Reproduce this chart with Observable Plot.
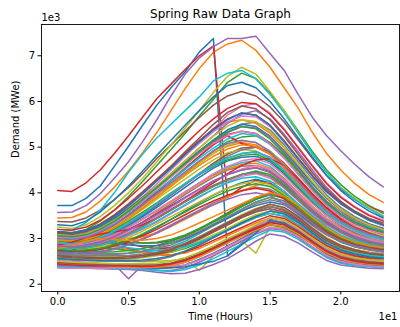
<!DOCTYPE html>
<html>
<head>
<meta charset="utf-8">
<script src="https://cdn.jsdelivr.net/npm/d3@7"></script>
<script src="https://cdn.jsdelivr.net/npm/@observablehq/plot@0.6"></script>
<style>
  body { margin: 0; background: #fff; }
  #chart svg { display: block; }
</style>
</head>
<body>
<div id="chart"></div>
<script>
// ---- data (demand in thousands of MWe, one list of 24 hourly values per spring day) ----
const hours = [0,1,2,3,4,5,6,7,8,9,10,11,12,13,14,15,16,17,18,19,20,21,22,23];
const xTicks = [0, 5, 10, 15, 20];
const yTicks = [2, 3, 4, 5, 6, 7];
const titleText = "Spring Raw Data Graph";
const xLabel = "Time (Hours)";
const yLabel = "Demand (MWe)";

const days = [
  [3.72,3.72,3.88,4.15,4.58,5.02,5.48,5.92,6.3,6.65,7.08,7.38,2.62,2.9,3.2,3.42,3.32,3.12,2.92,2.76,2.66,2.6,2.56,2.52],
  [3.45,3.46,3.58,3.82,4.12,4.48,4.88,5.32,5.8,6.28,6.72,7.08,7.26,7.34,7.12,6.75,6.3,5.85,5.32,4.86,4.5,4.2,3.96,3.79],
  [3.15,3.12,3.2,3.38,3.62,3.92,4.25,4.6,4.95,5.3,5.68,6.05,6.42,6.62,6.5,6.18,5.8,5.35,4.9,4.5,4.18,3.92,3.72,3.55],
  [4.05,4.03,4.22,4.5,4.86,5.25,5.66,6.06,6.38,6.7,7.0,7.22,3.9,4.12,4.28,4.2,3.98,3.72,3.48,3.3,3.18,3.1,3.04,3.0],
  [3.57,3.58,3.72,3.98,4.32,4.68,5.12,5.6,6.12,6.6,6.95,7.2,7.38,7.38,7.43,7.05,6.68,6.15,5.65,5.25,4.92,4.62,4.35,4.13],
  [3.37,3.36,3.45,3.62,3.85,4.12,4.42,4.75,5.05,5.35,5.65,5.92,6.12,6.22,6.12,5.88,5.55,5.15,4.75,4.38,4.08,3.85,3.7,3.58],
  [3.05,3.02,3.08,3.22,3.42,3.66,3.92,4.2,4.5,4.8,5.1,5.4,5.7,5.9,5.95,5.75,5.4,5.0,4.6,4.22,3.92,3.7,3.52,3.4],
  [2.95,2.92,2.98,3.1,3.28,3.5,3.74,4.0,4.26,4.52,4.8,5.08,5.32,5.5,5.55,5.38,5.05,4.68,4.3,3.95,3.68,3.48,3.32,3.22],
  [3.25,3.22,3.3,3.48,3.72,4.0,4.32,4.68,5.05,5.42,5.8,6.2,6.55,6.75,6.6,6.22,5.8,5.32,4.85,4.45,4.12,3.88,3.68,3.5],
  [3.2,3.18,3.35,3.62,4.0,4.45,4.85,5.2,5.5,5.8,6.1,6.45,6.62,6.68,6.5,6.15,5.75,5.3,4.85,4.45,4.1,3.85,3.65,3.48],
  [3.3,3.28,3.38,3.58,3.85,4.15,4.48,4.82,5.15,5.48,5.8,6.1,6.35,6.42,6.3,6.0,5.62,5.2,4.78,4.38,4.05,3.8,3.6,3.45],
  [3.1,3.08,3.12,3.25,3.45,3.7,3.98,4.28,4.58,4.88,5.15,5.38,5.55,5.6,5.52,5.3,4.98,4.6,4.22,3.88,3.62,3.42,3.28,3.18],
  [2.9,2.88,2.95,3.08,3.25,3.45,3.68,3.92,4.18,4.42,4.68,4.92,5.12,5.22,5.25,5.1,4.82,4.48,4.12,3.8,3.52,3.32,3.18,3.08],
  [3.2,3.18,3.25,3.4,3.62,3.88,4.16,4.46,4.76,5.06,5.36,5.62,5.85,5.98,5.95,5.72,5.38,4.98,4.58,4.2,3.9,3.68,3.5,3.38],
  [3.0,2.98,3.05,3.18,3.38,3.6,3.86,4.14,4.42,4.7,4.98,5.25,5.52,5.72,5.8,5.62,5.28,4.9,4.5,4.12,3.82,3.58,3.4,3.28],
  [2.85,2.83,2.88,2.98,3.12,3.3,3.5,3.72,3.95,4.18,4.42,4.65,4.85,4.98,5.0,4.85,4.58,4.25,3.92,3.62,3.38,3.2,3.06,2.98],
  [2.4,2.38,2.37,2.36,2.36,2.36,2.35,2.36,2.4,2.5,2.64,2.8,2.96,3.12,3.28,3.38,3.32,3.15,2.92,2.72,2.58,2.5,2.45,2.42],
  [2.8,2.78,2.82,2.9,3.02,3.18,3.36,3.56,3.76,3.96,4.16,4.34,4.5,4.58,4.6,4.48,4.25,3.95,3.65,3.4,3.2,3.05,2.95,2.88],
  [2.55,2.53,2.52,2.51,2.5,2.5,2.49,2.5,2.52,2.55,2.3,2.62,2.78,2.95,2.68,3.25,3.22,3.05,2.82,2.62,2.52,2.46,2.43,2.41],
  [2.7,2.68,2.68,2.67,2.67,2.68,2.7,2.74,2.82,2.94,3.1,3.28,3.46,3.64,3.8,3.9,3.82,3.62,3.36,3.12,2.95,2.84,2.78,2.74],
  [2.82,2.8,2.85,2.95,3.1,3.28,3.48,3.68,3.9,4.12,4.34,4.54,4.7,4.78,4.8,4.68,4.42,4.1,3.78,3.5,3.28,3.12,3.0,2.92],
  [2.65,2.62,2.62,2.61,2.6,2.6,2.62,2.66,2.74,2.86,3.0,3.16,3.32,3.48,3.62,3.7,3.63,3.45,3.22,3.0,2.85,2.76,2.7,2.66],
  [2.45,2.43,2.42,2.41,2.4,2.4,2.4,2.42,2.46,2.54,2.66,2.8,2.94,3.08,3.2,3.3,3.24,3.08,2.88,2.68,2.56,2.5,2.46,2.44],
  [2.7,2.76,2.88,2.96,2.94,2.88,2.82,2.78,2.8,2.88,3.0,3.15,3.3,3.46,3.6,3.7,3.62,3.42,3.18,2.96,2.82,2.72,2.66,2.62],
  [2.36,2.35,2.35,2.34,2.33,2.32,2.3,2.26,2.23,2.24,2.32,2.43,2.56,2.74,2.94,3.1,3.05,2.9,2.7,2.52,2.42,2.38,2.35,2.34],
  [2.75,2.82,2.92,2.98,2.96,2.92,2.9,2.9,2.95,3.05,3.2,3.38,3.56,3.74,3.9,3.98,3.9,3.7,3.45,3.2,3.02,2.9,2.82,2.78],
  [2.78,2.75,2.78,2.84,2.94,3.06,3.2,3.36,3.54,3.72,3.9,4.08,4.24,4.36,4.42,4.32,4.1,3.82,3.54,3.3,3.12,2.98,2.88,2.82],
  [2.55,2.53,2.52,2.51,2.5,2.5,2.5,2.53,2.6,2.72,2.86,3.02,3.18,3.32,3.46,3.55,3.48,3.3,3.08,2.86,2.72,2.64,2.58,2.55],
  [2.92,2.9,2.95,3.06,3.22,3.42,3.64,3.86,4.08,4.3,4.52,4.72,4.88,4.95,4.92,4.75,4.48,4.15,3.82,3.54,3.32,3.16,3.04,2.96],
  [2.5,2.47,2.45,2.43,2.42,2.4,2.38,2.38,2.4,2.48,2.6,2.76,2.92,3.08,3.24,3.38,3.34,3.18,2.96,2.75,2.62,2.55,2.5,2.48],
  [2.75,2.72,2.72,2.76,2.84,2.95,3.08,3.24,3.42,3.6,3.78,3.95,4.1,4.22,4.3,4.22,4.0,3.74,3.46,3.22,3.05,2.92,2.84,2.78],
  [3.0,2.97,3.02,3.14,3.3,3.5,3.72,3.96,4.2,4.44,4.68,4.88,5.02,5.1,5.05,4.85,4.55,4.2,3.86,3.56,3.34,3.18,3.06,2.98],
  [2.6,2.65,2.74,2.8,2.78,2.74,2.7,2.68,2.7,2.78,2.9,3.05,3.2,3.35,3.5,3.6,3.54,3.36,3.12,2.9,2.76,2.68,2.62,2.58],
  [2.85,2.83,2.86,2.94,3.06,3.2,3.36,3.54,3.72,3.9,4.08,4.26,4.4,4.5,4.55,4.45,4.22,3.92,3.62,3.36,3.16,3.02,2.92,2.86],
  [2.48,2.46,2.45,2.44,2.43,2.12,2.42,2.4,2.42,2.5,2.62,2.78,2.95,3.12,3.28,3.4,3.35,3.18,2.95,2.74,2.6,2.52,2.48,2.45],
  [3.05,3.02,3.08,3.2,3.38,3.6,3.84,4.1,4.36,4.62,4.88,5.1,5.28,5.35,5.3,5.1,4.78,4.42,4.06,3.74,3.5,3.32,3.2,3.12],
  [2.52,2.5,2.48,2.46,2.45,2.44,2.42,2.4,2.42,2.5,2.62,2.78,2.94,3.1,3.26,3.4,3.36,3.2,2.98,2.78,2.64,2.56,2.52,2.5],
  [2.72,2.7,2.7,2.72,2.78,2.88,3.0,3.14,3.3,3.46,3.62,3.78,3.92,4.04,4.12,4.08,3.9,3.64,3.38,3.16,3.0,2.88,2.8,2.75],
  [2.62,2.6,2.6,2.6,2.6,2.62,2.65,2.7,2.78,2.9,3.04,3.2,3.36,3.52,3.66,3.75,3.68,3.48,3.24,3.02,2.86,2.76,2.7,2.66],
  [2.9,2.88,2.9,2.98,3.1,3.26,3.44,3.62,3.82,4.02,4.22,4.4,4.56,4.66,4.7,4.58,4.32,4.0,3.7,3.44,3.24,3.1,3.0,2.94],
  [2.42,2.4,2.39,2.38,2.37,2.36,2.35,2.34,2.36,2.42,2.54,2.68,2.84,3.0,3.16,3.3,3.26,3.1,2.88,2.66,2.52,2.45,2.42,2.4],
  [2.8,2.86,2.96,3.02,3.02,3.0,3.04,3.12,3.26,3.42,3.58,3.74,3.9,4.04,4.16,4.24,4.16,3.94,3.66,3.4,3.2,3.06,2.96,2.9],
  [2.95,2.92,2.96,3.06,3.2,3.38,3.58,3.78,4.0,4.2,4.4,4.58,4.72,4.82,4.85,4.72,4.45,4.12,3.8,3.52,3.3,3.15,3.04,2.98],
  [2.62,2.7,2.84,2.9,2.86,2.78,2.7,2.64,2.64,2.7,2.82,2.96,3.1,3.24,3.38,3.5,3.44,3.26,3.04,2.84,2.7,2.62,2.58,2.56],
  [2.4,2.38,2.37,2.36,2.35,2.34,2.33,2.3,2.3,2.36,2.48,2.62,2.78,2.94,3.1,3.22,3.18,3.02,2.8,2.6,2.48,2.42,2.39,2.37],
  [2.82,2.8,2.82,2.88,2.98,3.12,3.28,3.46,3.64,3.82,4.0,4.16,4.3,4.4,4.45,4.36,4.14,3.86,3.58,3.34,3.14,3.0,2.9,2.84],
  [3.1,3.08,3.14,3.28,3.48,3.72,3.98,4.26,4.54,4.82,5.08,5.34,5.55,5.68,5.66,5.45,5.12,4.74,4.36,4.02,3.76,3.56,3.4,3.28],
  [2.68,2.66,2.66,2.66,2.66,2.68,2.72,2.78,2.86,2.98,3.12,3.28,3.44,3.6,3.76,3.85,3.78,3.58,3.32,3.1,2.94,2.82,2.76,2.72],
  [2.58,2.56,2.55,2.54,2.54,2.55,2.58,2.62,2.7,2.8,2.94,3.08,3.22,3.38,3.52,3.6,3.54,3.36,3.12,2.92,2.78,2.7,2.64,2.6],
  [2.38,2.37,2.36,2.35,2.34,2.33,2.32,2.3,2.28,2.32,2.42,2.56,2.72,2.88,3.04,3.18,3.14,2.98,2.78,2.58,2.46,2.41,2.38,2.36],
  [3.12,3.1,3.15,3.26,3.44,3.66,3.9,4.14,4.4,4.66,4.92,5.16,5.38,5.5,5.45,5.24,4.92,4.56,4.2,3.88,3.64,3.46,3.32,3.22],
  [2.58,2.64,2.76,2.84,2.82,2.76,2.7,2.65,2.64,2.68,2.78,2.92,3.06,3.2,3.34,3.45,3.4,3.22,3.0,2.8,2.66,2.58,2.54,2.52],
  [2.72,2.7,2.7,2.7,2.71,2.74,2.78,2.85,2.94,3.06,3.2,3.36,3.52,3.7,3.86,3.98,3.9,3.7,3.44,3.2,3.02,2.9,2.82,2.78],
  [2.98,2.95,3.0,3.12,3.3,3.52,3.76,4.02,4.28,4.54,4.8,5.05,5.25,5.08,5.0,4.9,4.65,4.32,3.98,3.68,3.44,3.26,3.12,3.04],
  [2.88,2.86,2.9,3.0,3.14,3.32,3.52,3.74,3.96,4.18,4.4,4.6,4.76,4.86,4.9,4.78,4.5,4.18,3.86,3.58,3.36,3.2,3.08,3.0],
  [2.6,2.58,2.57,2.56,2.56,2.57,2.6,2.65,2.72,2.84,2.98,3.14,3.3,3.46,3.58,3.65,3.58,3.4,3.16,2.95,2.8,2.72,2.66,2.62],
  [2.36,2.35,2.35,2.35,2.36,2.36,2.36,2.37,2.38,2.42,2.52,2.66,2.82,2.98,3.12,3.24,3.2,3.04,2.82,2.62,2.5,2.44,2.4,2.38],
  [2.9,2.88,2.92,3.02,3.16,3.34,3.54,3.76,3.98,4.2,4.42,4.62,4.8,4.94,5.0,4.88,4.6,4.26,3.92,3.62,3.4,3.24,3.12,3.04],
  [2.98,2.96,3.0,3.1,3.26,3.46,3.68,3.92,4.16,4.4,4.64,4.86,5.04,5.14,5.1,4.92,4.62,4.28,3.94,3.64,3.42,3.26,3.14,3.06],
  [2.6,2.66,2.78,2.85,2.84,2.8,2.76,2.74,2.76,2.82,2.92,3.04,3.18,3.32,3.46,3.55,3.5,3.34,3.1,2.9,2.76,2.68,2.63,2.6],
  [2.45,2.43,2.42,2.42,2.41,2.4,2.38,2.36,2.36,2.38,2.44,2.5,2.62,2.86,3.12,3.4,3.34,3.16,2.94,2.72,2.58,2.5,2.46,2.44],
  [2.86,2.84,2.87,2.95,3.08,3.24,3.42,3.6,3.8,4.0,4.2,4.38,4.52,4.62,4.65,4.54,4.3,4.0,3.7,3.44,3.24,3.1,2.98,2.92],
  [2.75,2.8,2.9,2.96,2.95,2.92,2.9,2.92,2.98,3.08,3.22,3.38,3.54,3.7,3.86,3.95,3.88,3.68,3.42,3.18,3.0,2.88,2.82,2.78],
  [2.74,2.72,2.73,2.76,2.84,2.94,3.06,3.2,3.36,3.52,3.68,3.82,3.95,4.05,4.1,4.04,3.86,3.62,3.36,3.14,2.98,2.86,2.8,2.76],
  [3.08,3.06,3.1,3.22,3.4,3.62,3.86,4.12,4.38,4.64,4.9,5.12,5.32,5.45,5.42,5.22,4.9,4.52,4.14,3.82,3.58,3.4,3.26,3.16],
  [2.48,2.46,2.45,2.44,2.43,2.42,2.42,2.42,2.46,2.54,2.66,2.8,2.96,3.1,3.24,3.35,3.3,3.14,2.92,2.72,2.6,2.53,2.49,2.47],
  [2.88,2.86,2.88,2.96,3.08,3.24,3.42,3.62,3.82,4.02,4.22,4.42,4.58,4.7,4.75,4.64,4.38,4.06,3.76,3.5,3.3,3.15,3.04,2.96],
  [2.65,2.63,2.62,2.62,2.62,2.63,2.66,2.7,2.78,2.9,3.04,3.2,3.36,3.5,3.62,3.7,3.64,3.45,3.2,2.98,2.84,2.75,2.69,2.66],
  [2.78,2.76,2.77,2.82,2.9,3.02,3.16,3.32,3.48,3.64,3.8,3.96,4.1,4.2,4.25,4.18,3.98,3.72,3.45,3.22,3.06,2.94,2.86,2.8],
  [3.02,3.0,3.05,3.16,3.34,3.56,3.8,4.04,4.28,4.52,4.76,4.98,5.18,5.3,5.26,5.06,4.76,4.4,4.06,3.76,3.52,3.36,3.24,3.14],
  [2.68,2.74,2.86,2.92,2.9,2.86,2.84,2.84,2.9,3.0,3.14,3.3,3.44,3.6,3.72,3.8,3.74,3.54,3.3,3.08,2.92,2.82,2.76,2.72],
  [2.44,2.42,2.41,2.4,2.39,2.38,2.37,2.37,2.4,2.48,2.6,2.74,2.9,3.04,3.18,3.3,3.26,3.1,2.88,2.68,2.55,2.48,2.44,2.42],
  [2.8,2.78,2.8,2.86,2.96,3.1,3.26,3.44,3.62,3.8,3.98,4.14,4.28,4.4,4.48,4.4,4.18,3.9,3.62,3.38,3.18,3.04,2.94,2.86],
  [3.15,3.12,3.18,3.32,3.52,3.76,4.02,4.3,4.58,4.86,5.14,5.4,5.62,5.75,5.7,5.48,5.14,4.76,4.38,4.04,3.78,3.58,3.42,3.3],
  [2.7,2.68,2.68,2.7,2.76,2.86,2.98,3.12,3.28,3.44,3.6,3.74,3.86,3.96,4.0,3.94,3.76,3.52,3.28,3.08,2.94,2.84,2.78,2.72],
  [3.12,3.1,3.16,3.3,3.5,3.74,4.0,4.28,4.58,4.9,5.2,5.5,5.76,5.9,5.84,5.6,5.24,4.84,4.44,4.08,3.8,3.6,3.44,3.34],
  [2.84,2.82,2.84,2.9,3.0,3.14,3.3,3.48,3.68,3.88,4.06,4.24,4.4,4.52,4.6,4.52,4.28,3.98,3.68,3.42,3.22,3.08,2.98,2.9],
  [2.66,2.64,2.64,2.64,2.65,2.68,2.72,2.8,2.9,3.02,3.16,3.32,3.48,3.64,3.8,3.9,3.82,3.6,3.34,3.1,2.94,2.82,2.75,2.7],
  [3.08,3.05,3.1,3.22,3.4,3.62,3.88,4.14,4.42,4.7,4.98,5.24,5.46,5.6,5.56,5.34,5.0,4.62,4.24,3.9,3.64,3.45,3.3,3.2],
  [2.8,2.78,2.8,2.86,2.95,3.08,3.22,3.38,3.56,3.74,3.92,4.08,4.22,4.32,4.35,4.26,4.04,3.76,3.5,3.26,3.08,2.96,2.88,2.82],
  [2.56,2.54,2.53,2.52,2.52,2.52,2.53,2.56,2.62,2.72,2.86,3.02,3.18,3.34,3.48,3.6,3.54,3.36,3.12,2.9,2.75,2.66,2.6,2.57],
  [2.96,2.94,2.98,3.08,3.24,3.44,3.66,3.9,4.14,4.38,4.6,4.8,4.96,5.05,5.02,4.84,4.54,4.2,3.86,3.56,3.34,3.18,3.06,2.98],
  [2.76,2.74,2.75,2.78,2.86,2.96,3.1,3.26,3.42,3.58,3.74,3.9,4.04,4.14,4.2,4.14,3.94,3.68,3.42,3.2,3.04,2.92,2.84,2.78],
  [2.86,2.92,3.02,3.1,3.14,3.2,3.3,3.44,3.62,3.82,4.02,4.22,4.42,4.6,4.72,4.75,4.6,4.3,3.96,3.66,3.42,3.24,3.12,3.02],
  [3.0,2.98,3.02,3.14,3.3,3.5,3.74,3.98,4.22,4.46,4.7,4.92,5.08,5.15,5.1,4.9,4.6,4.24,3.9,3.6,3.38,3.22,3.1,3.02],
  [2.62,2.6,2.59,2.58,2.58,2.6,2.63,2.68,2.76,2.88,3.02,3.18,3.34,3.5,3.64,3.75,3.68,3.48,3.22,3.0,2.85,2.75,2.68,2.64],
  [3.04,3.02,3.06,3.18,3.36,3.58,3.82,4.08,4.34,4.6,4.86,5.08,5.26,5.35,5.3,5.08,4.76,4.4,4.04,3.72,3.48,3.3,3.18,3.1],
  [2.82,2.8,2.82,2.88,2.98,3.1,3.26,3.44,3.62,3.8,3.98,4.14,4.28,4.4,4.45,4.36,4.12,3.84,3.56,3.32,3.14,3.0,2.9,2.84],
  [2.5,2.48,2.47,2.46,2.45,2.45,2.45,2.46,2.5,2.58,2.7,2.84,3.0,3.14,3.3,3.45,3.4,3.22,3.0,2.8,2.66,2.58,2.53,2.51],
  [2.9,2.88,2.92,3.02,3.16,3.34,3.54,3.76,3.98,4.2,4.42,4.6,4.76,4.86,4.9,4.76,4.48,4.16,3.84,3.56,3.34,3.18,3.06,2.98],
  [3.15,3.13,3.18,3.3,3.48,3.72,3.98,4.26,4.54,4.84,5.12,5.38,5.6,5.75,5.7,5.48,5.12,4.74,4.36,4.02,3.76,3.56,3.4,3.3],
  [2.78,2.84,2.94,3.0,2.98,2.96,2.96,3.0,3.08,3.2,3.34,3.48,3.62,3.76,3.9,4.0,3.92,3.72,3.46,3.22,3.04,2.92,2.84,2.8],
  [3.06,3.04,3.08,3.2,3.38,3.6,3.86,4.12,4.38,4.64,4.9,5.14,5.34,5.45,5.4,5.18,4.86,4.48,4.1,3.78,3.54,3.36,3.22,3.14],
  [2.44,2.42,2.41,2.4,2.4,2.4,2.39,2.4,2.44,2.52,2.64,2.78,2.94,3.08,3.22,3.35,3.3,3.14,2.92,2.72,2.58,2.5,2.46,2.44],
  [2.84,2.82,2.85,2.92,3.04,3.18,3.34,3.52,3.7,3.9,4.08,4.26,4.4,4.5,4.55,4.46,4.22,3.92,3.62,3.38,3.18,3.04,2.94,2.88]
];

// matplotlib default colour cycle
const tab10 = ["#1f77b4","#ff7f0e","#2ca02c","#d62728","#9467bd","#8c564b","#e377c2","#7f7f7f","#bcbd22","#17becf"];

const lineMarks = days.map((vals, i) =>
  Plot.lineY(vals, {x: hours, y: d => d, stroke: tab10[i % 10], strokeWidth: 1.5})
);

const chart = Plot.plot({
  width: 400,
  height: 327,
  marginLeft: 41,
  marginRight: 1,
  marginTop: 24,
  marginBottom: 36,
  style: {fontFamily: "'DejaVu Sans', sans-serif", fontSize: "10px", background: "white", color: "#000"},
  x: {domain: [-1.15, 24.15]},
  y: {domain: [1.84, 7.685]},
  marks: [
    ...lineMarks,
    Plot.frame({stroke: "#000", strokeWidth: 0.9}),
    Plot.axisX({ticks: xTicks, tickFormat: d => (d / 10).toFixed(1), tickSize: 3.5, tickPadding: 3, label: null, fontSize: 10}),
    Plot.axisY({ticks: yTicks, tickFormat: d => String(d), tickSize: 3.5, tickPadding: 3, label: null, fontSize: 10}),
    Plot.text([titleText], {frameAnchor: "top", lineAnchor: "middle", dy: -10, fontSize: 12, text: d => d}),
    Plot.text(["1e3"], {frameAnchor: "top-left", lineAnchor: "middle", textAnchor: "start", dy: -7, fontSize: 10, text: d => d}),
    Plot.text([xLabel], {frameAnchor: "bottom", lineAnchor: "middle", dy: 25, fontSize: 10, text: d => d}),
    Plot.text(["1e1"], {frameAnchor: "bottom-right", lineAnchor: "middle", textAnchor: "end", dx: -2, dy: 25, fontSize: 10, text: d => d}),
    Plot.text([yLabel], {frameAnchor: "left", lineAnchor: "middle", dx: -26, rotate: -90, fontSize: 10, text: d => d})
  ]
});

document.getElementById("chart").appendChild(chart);
</script>
</body>
</html>
